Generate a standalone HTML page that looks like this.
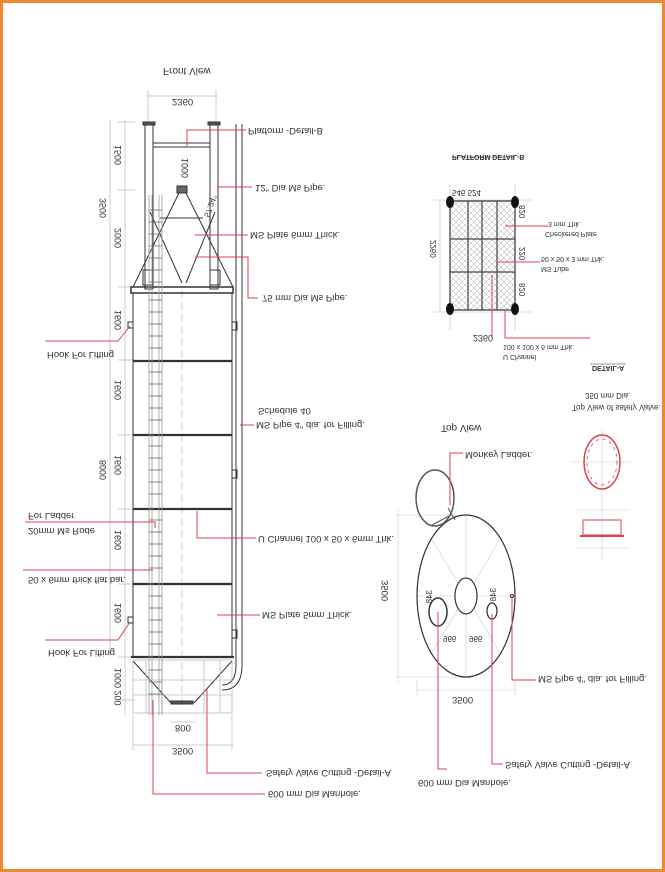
<!DOCTYPE html>
<html><head><meta charset="utf-8"><style>
html,body{margin:0;padding:0;background:#fff}
svg{display:block}
text{font-family:"Liberation Sans",sans-serif;fill:#333}
</style></head><body>
<svg width="665" height="872" viewBox="0 0 665 872" xmlns="http://www.w3.org/2000/svg">
<defs>
<pattern id="hatch" width="6" height="6" patternUnits="userSpaceOnUse">
<path d="M0 0L6 6M6 0L0 6" stroke="#aaa" stroke-width="0.5"/>
</pattern>
</defs>
<rect x="1.5" y="1.5" width="662" height="869" fill="#fff" stroke="#f08a30" stroke-width="3"/>

<g font-size="9.5">
<!-- FRONT VIEW -->
<text transform="translate(163,68) scale(1,-1)" font-size="10">Front View</text>
<g stroke="#bbb" stroke-width="0.7" fill="none">
<line x1="146" y1="96" x2="218" y2="96"/><line x1="148" y1="90" x2="148" y2="122"/><line x1="216" y1="90" x2="216" y2="122"/>
<line x1="125" y1="120" x2="125" y2="715"/><line x1="110" y1="120" x2="110" y2="657"/>
<line x1="118" y1="122" x2="135" y2="122"/><line x1="118" y1="190" x2="135" y2="190"/><line x1="118" y1="287" x2="135" y2="287"/>
<line x1="118" y1="360" x2="135" y2="360"/><line x1="118" y1="435" x2="135" y2="435"/><line x1="118" y1="509" x2="135" y2="509"/><line x1="118" y1="584" x2="135" y2="584"/><line x1="118" y1="657" x2="135" y2="657"/><line x1="118" y1="700" x2="135" y2="700"/>
<line x1="133" y1="745" x2="233" y2="745"/><line x1="170" y1="722" x2="195" y2="722"/>
<line x1="133" y1="715" x2="133" y2="750"/><line x1="232" y1="715" x2="232" y2="750"/>
<line x1="182" y1="290" x2="182" y2="705" stroke-dasharray="8 4"/>
</g>
<text transform="translate(172,99) scale(1,-1)">2360</text>
<g font-size="9">
<text transform="translate(121,145) rotate(90) scale(1,-1)">1500</text>
<text transform="translate(121,228) rotate(90) scale(1,-1)">2000</text>
<text transform="translate(121,310) rotate(90) scale(1,-1)">1600</text>
<text transform="translate(121,380) rotate(90) scale(1,-1)">1600</text>
<text transform="translate(121,455) rotate(90) scale(1,-1)">1600</text>
<text transform="translate(121,530) rotate(90) scale(1,-1)">1600</text>
<text transform="translate(121,603) rotate(90) scale(1,-1)">1600</text>
<text transform="translate(121,668) rotate(90) scale(1,-1)">1000 200</text>
<text transform="translate(106,198) rotate(90) scale(1,-1)">3500</text>
<text transform="translate(106,460) rotate(90) scale(1,-1)">8000</text>
<text transform="translate(188,158) rotate(90) scale(1,-1)">1000</text>
<text transform="translate(204,216) rotate(-70) scale(1,-1)" font-size="8">57.24°</text>
</g>
<text transform="translate(175,725) scale(1,-1)">800</text>
<text transform="translate(172,748) scale(1,-1)">3500</text>

<g stroke="#333" fill="none" stroke-width="1">
<rect x="145" y="124" width="8" height="165"/><rect x="210" y="124" width="8" height="165"/>
<rect x="143" y="122" width="12" height="3" fill="#555"/><rect x="208" y="122" width="12" height="3" fill="#555"/>
<rect x="153" y="143" width="57" height="4"/>
<path d="M236 124 V665 Q236 685 222 685" /><path d="M242 124 V665 Q242 690 222 690"/>
<rect x="177" y="186" width="10" height="7" fill="#666"/>
<line x1="179" y1="193" x2="133" y2="287"/><line x1="186" y1="193" x2="233" y2="287"/>
<line x1="150" y1="212" x2="182" y2="283"/><line x1="215" y1="212" x2="186" y2="283"/>
<line x1="160" y1="218" x2="203" y2="218"/>
<rect x="143" y="270" width="10" height="15"/><rect x="210" y="270" width="10" height="15"/>
<rect x="131" y="287" width="102" height="6" stroke-width="1.5"/>
<rect x="133" y="293" width="99" height="364"/>
<g stroke-width="2.2"><line x1="133" y1="361" x2="232" y2="361"/><line x1="133" y1="435" x2="232" y2="435"/><line x1="133" y1="509" x2="232" y2="509"/><line x1="133" y1="584" x2="232" y2="584"/><line x1="131" y1="657" x2="234" y2="657"/></g>
<rect x="232" y="322" width="5" height="8"/><rect x="232" y="470" width="5" height="8"/><rect x="232" y="630" width="5" height="8"/>
<line x1="133" y1="661" x2="171" y2="703"/><line x1="232" y1="661" x2="194" y2="703"/>
<rect x="171" y="701" width="22" height="3" fill="#555"/>
</g>
<g stroke="#bbb" fill="none" stroke-width="0.8">
<rect x="133" y="660" width="99" height="53"/>
<line x1="146" y1="660" x2="146" y2="713"/><line x1="162" y1="660" x2="162" y2="713"/><line x1="204" y1="660" x2="204" y2="713"/><line x1="220" y1="660" x2="220" y2="713"/>
<line x1="133" y1="680" x2="232" y2="680"/><line x1="133" y1="695" x2="232" y2="695"/>
</g>
<g stroke="#999" fill="none" stroke-width="0.8">
<line x1="149" y1="195" x2="149" y2="715"/><line x1="162" y1="195" x2="162" y2="715"/>
<line x1="152" y1="195" x2="152" y2="715"/><line x1="159" y1="195" x2="159" y2="715"/>
</g>
<g stroke="#666" stroke-width="0.8">
<path d="M149 210H162M149 222H162M149 234H162M149 246H162M149 258H162M149 270H162M149 282H162M149 300H162M149 312H162M149 324H162M149 336H162M149 348H162M149 372H162M149 384H162M149 396H162M149 408H162M149 420H162M149 446H162M149 458H162M149 470H162M149 482H162M149 494H162M149 520H162M149 532H162M149 544H162M149 556H162M149 568H162M149 596H162M149 608H162M149 620H162M149 632H162M149 644H162M149 670H162M149 682H162M149 694H162"/>
</g>
<rect x="128" y="322" width="5" height="6" fill="none" stroke="#333"/>
<rect x="128" y="617" width="5" height="6" fill="none" stroke="#333"/>

<g stroke="#d9434f" fill="none" stroke-width="1">
<path d="M187 146V130H246"/><path d="M217 187H252"/><path d="M195 235H248"/><path d="M195 257H248V298H258"/>
<path d="M240 425H254"/><path d="M197 511V538H256"/><path d="M217 615H260"/>
<path d="M207 690V773H262"/><path d="M153 700V794H265"/>
<path d="M45 341H118L130 326"/><path d="M25 522H155V528"/><path d="M23 570H153"/><path d="M45 640H118L130 622"/>
</g>
<text transform="translate(248,128) scale(1,-1)">Platform  -Detail-B</text>
<text transform="translate(255,185) scale(1,-1)">12" Dia Ms Pipe.</text>
<text transform="translate(250,232) scale(1,-1)">MS Plate 6mm Thick.</text>
<text transform="translate(262,295) scale(1,-1)">75 mm Dia Ms Pipe.</text>
<text transform="translate(258,408) scale(1,-1)">Schedule 40</text>
<text transform="translate(256,422) scale(1,-1)">MS Pipe 4" dia. for Filling.</text>
<text transform="translate(258,536) scale(1,-1)">U Channel 100 x 50 x 6mm Thk.</text>
<text transform="translate(262,612) scale(1,-1)">MS Plate 5mm Thick.</text>
<text transform="translate(266,770) scale(1,-1)">Safety Valve Cutting -Detail-A</text>
<text transform="translate(268,791) scale(1,-1)">600 mm Dia Manhole.</text>
<text transform="translate(47,352) scale(1,-1)">Hook For Lifting</text>
<text transform="translate(28,513) scale(1,-1)">For Ladder</text>
<text transform="translate(28,528) scale(1,-1)">20mm Ms Rode</text>
<text transform="translate(28,577) scale(1,-1)">50 x 6mm thick flat bar.</text>
<text transform="translate(48,650) scale(1,-1)">Hook For Lifting</text>

<!-- PLATFORM DETAIL -->
<text transform="translate(452,155) scale(1,-1)" font-size="7" font-weight="bold">PLATFORM DETAIL-B</text>
<line x1="452" y1="157" x2="515" y2="157" stroke="#333" stroke-width="0.6"/>
<g stroke="#bbb" stroke-width="0.6"><line x1="433" y1="200" x2="533" y2="200"/><line x1="433" y1="312" x2="533" y2="312"/><line x1="450" y1="185" x2="450" y2="330"/><line x1="515" y1="185" x2="515" y2="330"/><line x1="440" y1="200" x2="440" y2="312"/></g>
<rect x="450" y="201" width="65" height="109" fill="url(#hatch)" stroke="#333" stroke-width="1.2"/>
<g stroke="#444" stroke-width="1.2"><line x1="468" y1="201" x2="468" y2="310"/><line x1="482" y1="201" x2="482" y2="310"/><line x1="497" y1="201" x2="497" y2="310"/><line x1="450" y1="239" x2="515" y2="239"/><line x1="450" y1="272" x2="515" y2="272"/></g>
<g fill="#111"><ellipse cx="450" cy="202" rx="4" ry="6"/><ellipse cx="515" cy="202" rx="4" ry="6"/><ellipse cx="450" cy="309" rx="4" ry="6"/><ellipse cx="515" cy="309" rx="4" ry="6"/></g>
<text transform="translate(452,190) scale(1,-1)" font-size="8">546  524</text>
<text transform="translate(436,240) rotate(90) scale(1,-1)" font-size="8">2260</text>
<text transform="translate(525,205) rotate(90) scale(1,-1)" font-size="8">820</text>
<text transform="translate(525,247) rotate(90) scale(1,-1)" font-size="8">220</text>
<text transform="translate(525,283) rotate(90) scale(1,-1)" font-size="8">820</text>
<g stroke="#d9434f" fill="none"><path d="M505 226H548"/><path d="M497 262H540"/><path d="M492 275V338"/><path d="M505 310V338H590"/></g>
<text transform="translate(548,222) scale(1,-1)" font-size="7">3 mm Thk.</text>
<text transform="translate(545,232) scale(1,-1)" font-size="7">Checkered Plate</text>
<text transform="translate(541,257) scale(1,-1)" font-size="7">50 x 50 x 3 mm Thk.</text>
<text transform="translate(541,267) scale(1,-1)" font-size="7">MS Tube</text>
<text transform="translate(473,335) scale(1,-1)" font-size="9">2360</text>
<text transform="translate(503,345) scale(1,-1)" font-size="7">100 x 100 x 6 mm Thk.</text>
<text transform="translate(503,355) scale(1,-1)" font-size="7">U Channel</text>
<text transform="translate(592,366) scale(1,-1)" font-size="7" font-weight="bold">DETAIL-A</text>
<line x1="590" y1="364" x2="626" y2="364" stroke="#333" stroke-width="0.6"/>
<text transform="translate(585,393) scale(1,-1)" font-size="8">350 mm Dia.</text>
<text transform="translate(572,405) scale(1,-1)" font-size="8">Top View of safety Valve.</text>
<g stroke="#ccc" stroke-width="0.6"><line x1="572" y1="462" x2="632" y2="462"/><line x1="602" y1="430" x2="602" y2="560"/><line x1="575" y1="510" x2="630" y2="510"/><line x1="575" y1="548" x2="630" y2="548"/></g>
<ellipse cx="602" cy="462" rx="18" ry="27" fill="none" stroke="#d9434f" stroke-width="1.5"/>
<ellipse cx="602" cy="462" rx="15" ry="23" fill="none" stroke="#d9434f" stroke-width="0.8" stroke-dasharray="3 4"/>
<rect x="583" y="520" width="38" height="15" fill="none" stroke="#d9434f" stroke-width="1"/>
<line x1="580" y1="536" x2="624" y2="536" stroke="#d9434f" stroke-width="2"/>

<!-- TOP VIEW -->
<text transform="translate(441,425) scale(1,-1)" font-size="10">Top View</text>
<g stroke="#ccc" stroke-width="0.6">
<line x1="396" y1="515" x2="470" y2="515"/><line x1="396" y1="677" x2="470" y2="677"/><line x1="398" y1="510" x2="398" y2="682"/>
<line x1="417" y1="690" x2="516" y2="690"/><line x1="417" y1="680" x2="417" y2="695"/><line x1="515" y1="680" x2="515" y2="695"/>
<line x1="417" y1="596" x2="515" y2="596"/><line x1="466" y1="515" x2="466" y2="677"/>
<line x1="431" y1="538" x2="501" y2="654"/><line x1="501" y1="538" x2="431" y2="654"/>
</g>
<ellipse cx="466" cy="596" rx="49" ry="81" fill="none" stroke="#333" stroke-width="1.2"/>
<ellipse cx="466" cy="596" rx="11" ry="18" fill="#fff" stroke="#333" stroke-width="1.2"/>
<ellipse cx="438" cy="612" rx="9" ry="14" fill="#fff" stroke="#333" stroke-width="1.5"/>
<ellipse cx="492" cy="611" rx="5" ry="8" fill="#fff" stroke="#333" stroke-width="1.2"/>
<ellipse cx="435" cy="498" rx="19" ry="28" fill="none" stroke="#555" stroke-width="1.5"/>
<line x1="432" y1="525" x2="449" y2="516" stroke="#555"/><line x1="448" y1="508" x2="455" y2="520" stroke="#555"/>
<circle cx="512" cy="596" r="1.5" fill="none" stroke="#333"/>
<text transform="translate(452,697) scale(1,-1)">3500</text>
<text transform="translate(388,580) rotate(90) scale(1,-1)">3500</text>
<text transform="translate(432,590) rotate(90) scale(1,-1)" font-size="8">348</text>
<text transform="translate(496,588) rotate(90) scale(1,-1)" font-size="8">348</text>
<text transform="translate(443,636) scale(1,-1)" font-size="8">966</text>
<text transform="translate(469,636) scale(1,-1)" font-size="8">966</text>
<g stroke="#d9434f" fill="none"><path d="M450 505V453H463"/><path d="M512 598V680H536"/><path d="M492 614V764H503"/><path d="M438 612V769H447"/></g>
<text transform="translate(465,452) scale(1,-1)">Monkey Ladder.</text>
<text transform="translate(538,676) scale(1,-1)">MS Pipe 4" dia. for Filling.</text>
<text transform="translate(505,762) scale(1,-1)">Safety Valve Cutting -Detail-A</text>
<text transform="translate(418,780) scale(1,-1)">600 mm Dia Manhole.</text>
</g>
</svg>
</body></html>
